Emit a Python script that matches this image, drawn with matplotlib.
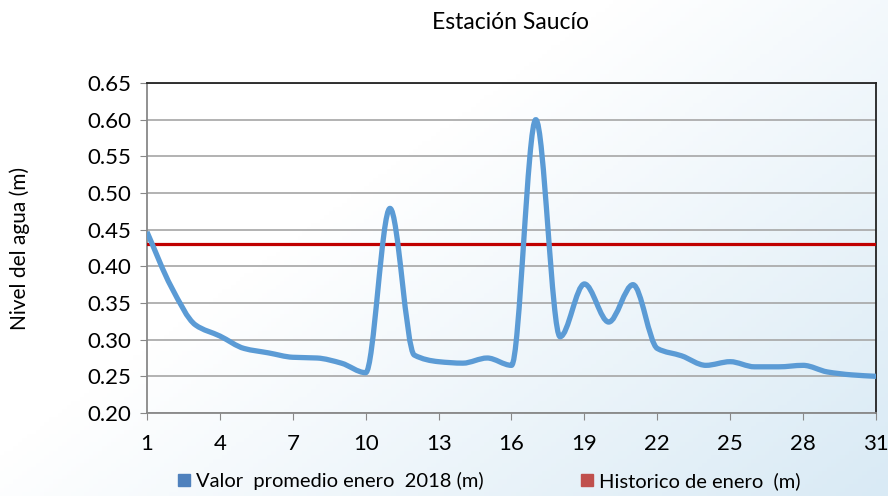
import numpy as np
import matplotlib.pyplot as plt
from matplotlib.colors import LinearSegmentedColormap
from matplotlib.path import Path
from matplotlib.patches import PathPatch, Patch

# ── data ──
days = list(range(1, 32))
nivel = [0.447, 0.372, 0.320, 0.305, 0.288, 0.282, 0.276, 0.275, 0.268, 0.255,
         0.479, 0.279, 0.270, 0.268, 0.275, 0.265, 0.600, 0.304, 0.376, 0.324,
         0.375, 0.288, 0.278, 0.265, 0.270, 0.263, 0.263, 0.265, 0.256, 0.252,
         0.250]
historico = 0.430
xticks = list(range(1, 32, 3))
yticks = [0.20, 0.25, 0.30, 0.35, 0.40, 0.45, 0.50, 0.55, 0.60, 0.65]

plt.rcParams['font.family'] = ['Lato', 'DejaVu Sans']

fig = plt.figure(figsize=(8.88, 4.96), dpi=100)

# soft blue gradient background (stronger toward bottom right)
bg = fig.add_axes([0, 0, 1, 1], zorder=-5)
gx, gy = np.meshgrid(np.linspace(0, 1, 200), np.linspace(0, 1, 120))
grad = np.clip(gx * 0.8 + gy * 0.6 - 0.55, 0, 1)
bg.imshow(grad, cmap=LinearSegmentedColormap.from_list("bgc", ["#ffffff", "#d9eaf5"]),
          aspect="auto", extent=[0, 1, 0, 1], vmin=0, vmax=0.85)
bg.axis("off")

ax = fig.add_axes([0.1655, 0.1673, 0.821, 0.6654])
ax.patch.set_alpha(0)

# smooth curve through the points (monotone cubic tangents -> Bezier), data coords
x = np.array(days, dtype=float)
y = np.array(nivel)
d = np.diff(y) / np.diff(x)
m = np.zeros_like(y)
m[0], m[-1] = d[0], d[-1]
for i in range(1, len(y) - 1):
    if d[i - 1] * d[i] > 0:
        m[i] = 2 / (1 / d[i - 1] + 1 / d[i])
verts = [(x[0], y[0])]
codes = [Path.MOVETO]
for i in range(len(x) - 1):
    h = x[i + 1] - x[i]
    verts += [(x[i] + h / 3, y[i] + m[i] * h / 3),
              (x[i + 1] - h / 3, y[i + 1] - m[i + 1] * h / 3),
              (x[i + 1], y[i + 1])]
    codes += [Path.CURVE4] * 3
ax.add_patch(PathPatch(Path(verts, codes), facecolor="none", edgecolor="#5B9BD5",
                       lw=3.8, capstyle="butt", joinstyle="round", zorder=4))

ax.axhline(historico, color="#C00000", lw=2.3, zorder=3)

ax.set_xlim(1, 31)
ax.set_ylim(0.20, 0.65)
ax.set_xticks(xticks)
ax.set_yticks(yticks)
ax.set_yticklabels([f"{v:.2f}" for v in yticks])
ax.grid(axis="y", color="#a6a6a6", lw=1.2)
ax.set_axisbelow(True)
ax.tick_params(axis="x", direction="out", length=5, color="#888888", labelsize=16, pad=10)
ax.tick_params(axis="y", direction="out", length=5, color="#888888", labelsize=16, pad=6)
ax.spines["left"].set_color("#888888")
ax.spines["bottom"].set_color("#888888")
ax.spines["top"].set_color("#222222")
ax.spines["right"].set_color("#222222")
for s in ax.spines.values():
    s.set_linewidth(1.3)

ax.set_ylabel("Nivel del agua (m)", fontsize=15)
ax.yaxis.set_label_coords(-0.16, 0.5)
fig.text(0.575, 0.955, "Estación Saucío", ha="center", va="center", fontsize=16.5)

handles = [Patch(color="#4F81BD", label="Valor  promedio enero  2018 (m)"),
           Patch(color="#C0504D", label="Historico de enero  (m)")]
fig.legend(handles=handles, loc="center", bbox_to_anchor=(0.551, 0.03), ncol=2,
           frameon=False, fontsize=14.5, handlelength=0.6, handleheight=0.6,
           handletextpad=0.3, columnspacing=4.8)

fig.savefig("out.png", dpi=100)
